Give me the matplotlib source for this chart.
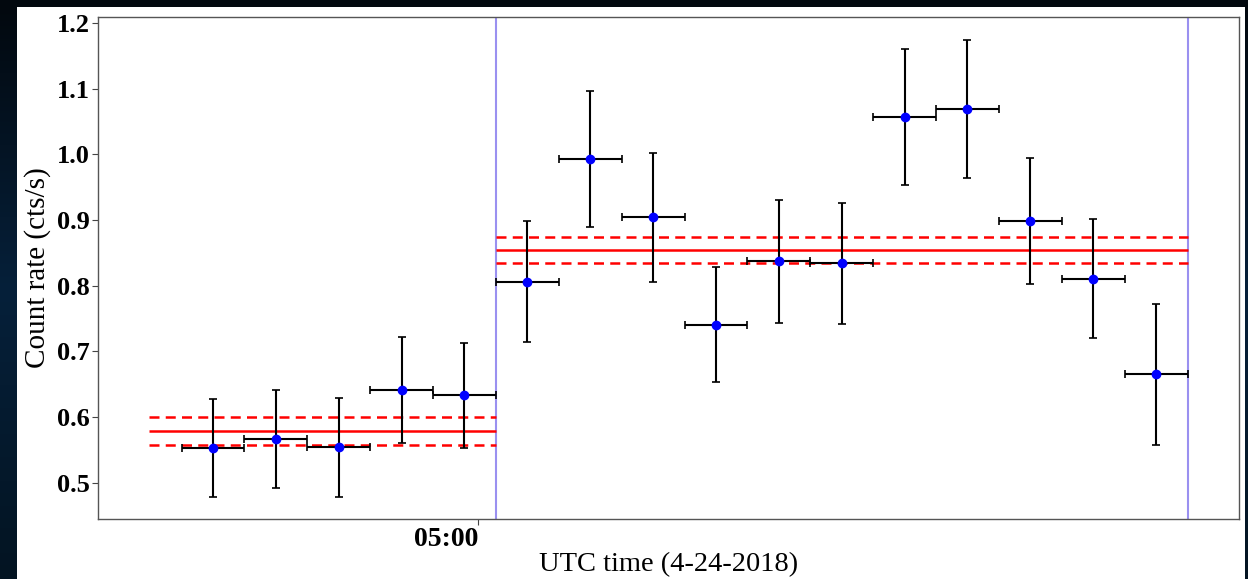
"""
Light curve: count rate per 10-min bin with before/after mean levels
"""
import numpy as np
import pandas as pd
import matplotlib
matplotlib.use('Agg')
import matplotlib.pyplot as plt
import matplotlib.dates as mdates
from matplotlib.patches import Rectangle

# bin centres (UTC, 2018-04-24), 10 minute bins
bin_centres = ['04:17:51', '04:27:51', '04:37:51', '04:47:51', '04:57:51',
               '05:07:51', '05:17:51', '05:27:51', '05:37:51', '05:47:51',
               '05:57:51', '06:07:51', '06:17:51', '06:27:51', '06:37:51',
               '06:47:51']
rate = [0.553, 0.567, 0.554, 0.641, 0.633,
        0.806, 0.993, 0.904, 0.741, 0.837,
        0.834, 1.057, 1.069, 0.898, 0.811, 0.665]
rate_err = [0.075, 0.075, 0.075, 0.081, 0.080,
            0.092, 0.104, 0.098, 0.087, 0.093,
            0.092, 0.104, 0.105, 0.096, 0.091, 0.107]
bin_half_min = 5

# mean levels: (start, end, mean, sigma)
seg_start = ['04:07:40', '05:02:51']
seg_end = ['05:02:51', '06:52:51']
seg_mean = [0.579, 0.854]
seg_sigma = [0.021, 0.020]

# boundaries marked with vertical lines
boundaries = ['05:02:51', '06:52:51']

day = '2018-04-24 '


def tnum(s):
    return mdates.date2num(pd.Timestamp(day + s).to_pydatetime())


t = np.array([tnum(s) for s in bin_centres])
xerr = bin_half_min / 1440.0

plt.rcParams['font.family'] = ['Liberation Serif', 'DejaVu Serif']

fig = plt.figure(figsize=(12.48, 5.79), dpi=100)

# dark backdrop with a white panel on top
bg = fig.add_axes([0, 0, 1, 1], zorder=-10)
cmap = matplotlib.colors.LinearSegmentedColormap.from_list(
    'bg', ['#02080e', '#06203a', '#031422'])
bg.imshow(np.linspace(0, 1, 200).reshape(-1, 1), aspect='auto', cmap=cmap,
          extent=[0, 1, 0, 1])
bg.set_axis_off()
fig.patches.append(Rectangle((17 / 1248, 0), (1245 - 17) / 1248, 572 / 579,
                             transform=fig.transFigure, facecolor='white',
                             edgecolor='none', zorder=-5))

ax = fig.add_axes([98 / 1248, 60 / 579, (1239 - 98) / 1248, (519 - 17) / 579])

ax.errorbar(t, rate, xerr=xerr, yerr=rate_err, fmt='o', color='blue',
            ecolor='black', elinewidth=1.5, capsize=3, capthick=1.2,
            markersize=6, zorder=3)

for s, e, m, sg in zip(seg_start, seg_end, seg_mean, seg_sigma):
    x0, x1 = tnum(s), tnum(e)
    ax.hlines(m, x0, x1, colors='red', linewidth=1.8, zorder=2)
    ax.hlines([m + sg, m - sg], x0, x1, colors='red', linewidth=1.8,
              linestyles=(0, (4, 2.5)), zorder=2)

for b in boundaries:
    ax.axvline(tnum(b), color='#9a90f0', linewidth=1.5, zorder=1)

ax.set_xlim(tnum('03:59:34'), tnum('07:01:02'))
ax.set_ylim(0.445, 1.209)

ax.set_xticks([tnum('05:00:00')])
ax.xaxis.set_major_formatter(mdates.DateFormatter('%H:%M'))
ax.set_yticks([0.5, 0.6, 0.7, 0.8, 0.9, 1.0, 1.1, 1.2])

ax.tick_params(length=4, width=0.8, color='#444444', labelsize=19, pad=2)
ax.tick_params(axis='x', labelsize=20)
for lbl in ax.get_xticklabels() + ax.get_yticklabels():
    lbl.set_fontweight('bold')
for lbl in ax.get_xticklabels():
    lbl.set_horizontalalignment('right')

for sp in ax.spines.values():
    sp.set_color('#555555')
    sp.set_linewidth(1.0)

ax.set_xlabel('UTC time (4-24-2018)', fontsize=20.5, labelpad=0)
ax.set_ylabel('Count rate (cts/s)', fontsize=21, labelpad=4)

plt.savefig('out.png', dpi=100)
